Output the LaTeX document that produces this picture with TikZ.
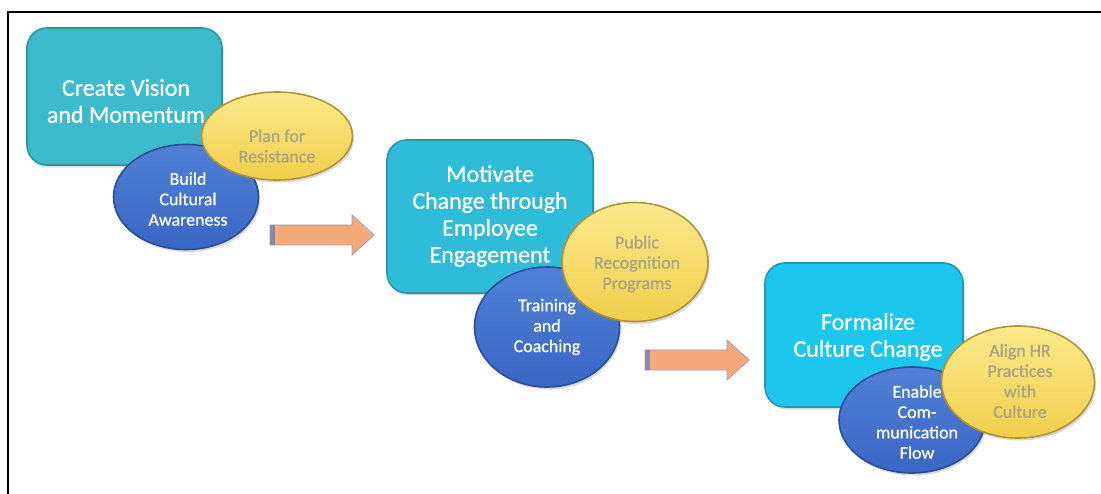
\documentclass[tikz,border=0pt]{standalone}
\usepackage{fontspec}
\setmainfont{Carlito}
\usetikzlibrary{shapes.geometric,shadows}

\definecolor{tealA}{HTML}{3DBACB}
\definecolor{tealB}{HTML}{2FBCD8}
\definecolor{tealC}{HTML}{1CC6EC}
\definecolor{tealrim}{HTML}{2596AE}
\definecolor{blueTop}{HTML}{4F80D6}
\definecolor{blueBot}{HTML}{3A66C4}
\definecolor{bluerim}{HTML}{2A4D98}
\definecolor{yelTop}{HTML}{FCE98C}
\definecolor{yelBot}{HTML}{F1CF4C}
\definecolor{yelrim}{HTML}{B09338}
\definecolor{yeltext}{HTML}{ABA284}
\definecolor{arrowfill}{HTML}{F5AA7C}
\definecolor{arrowrim}{HTML}{A29CB4}
\definecolor{tailstrip}{HTML}{8C87A9}

\tikzset{
  stage/.style={rectangle, rounded corners=20bp, draw=tealrim, line width=1.6bp,
    drop shadow={opacity=0.3, shadow xshift=1.5bp, shadow yshift=-2.5bp}},
  blob/.style={ellipse, inner sep=0pt, line width=1.6bp,
    drop shadow={opacity=0.3, shadow xshift=1.5bp, shadow yshift=-2.5bp}},
  bluebit/.style={blob, top color=blueTop, bottom color=blueBot, draw=bluerim},
  yellowbit/.style={blob, top color=yelTop, bottom color=yelBot, draw=yelrim},
  bigtext/.style={align=center, text=white,
    font=\fontsize{24}{27}\selectfont\addfontfeature{FakeBold=0.8}},
  smalltext/.style={align=center, text=white,
    font=\fontsize{18}{20.5}\selectfont\addfontfeature{FakeBold=0.8}},
  paletext/.style={smalltext, text=yeltext}
}

\begin{document}
\begin{tikzpicture}[x=1bp,y=-1bp]
  \useasboundingbox (0,0) rectangle (1101,494);

  % frame
  \draw[line width=2bp] (8,494) -- (8,12) -- (1101,12);

  % stage 1
  \node[stage, fill=tealA, minimum width=195bp, minimum height=137bp] (vision) at (124.5,96.5) {};
  \node[bluebit, minimum width=145bp, minimum height=105bp] (aware) at (186,197) {};
  \node[yellowbit, minimum width=151bp, minimum height=88bp] (resist) at (277,136) {};
  \node[bigtext] (vision text) at (126,101) {Create Vision\\and Momentum};
  \node[smalltext] (aware text) at (188,199) {Build\\Cultural\\Awareness};
  \node[paletext] (resist text) at (277,146) {Plan for\\Resistance};

  % stage 2
  \node[stage, fill=tealB, minimum width=206bp, minimum height=153bp] (motivate) at (490,216.5) {};
  \node[bluebit, minimum width=145bp, minimum height=120bp] (coach) at (547,327) {};
  \node[yellowbit, minimum width=146bp, minimum height=119bp] (recog) at (635,262) {};
  \node[bigtext] (motivate text) at (490,216) {Motivate\\Change through\\Employee\\Engagement};
  \node[smalltext] (coach text) at (547,327) {Training\\and\\Coaching};
  \node[paletext] (recog text) at (637,264) {Public\\Recognition\\Programs};

  % stage 3
  \node[stage, fill=tealC, minimum width=198bp, minimum height=144bp] (formal) at (864,335) {};
  \node[bluebit, minimum width=146bp, minimum height=106bp] (comms) at (912,420) {};
  \node[yellowbit, minimum width=153bp, minimum height=112bp] (hr) at (1018,382) {};
  \node[bigtext] (formal text) at (868,337) {Formalize\\Culture Change};
  \node[smalltext] (comms text) at (917,422) {Enable\\Com-\\munication\\Flow};
  \node[paletext] (hr text) at (1020,381) {Align HR\\Practices\\with\\Culture};

  % block arrows between the stages
  \foreach \x/\y in {270/235, 645/360}{
    \draw[fill=arrowfill, draw=arrowrim, line width=0.8bp]
      (\x,\y-10) -- (\x+82,\y-10) -- (\x+82,\y-20) -- (\x+104,\y)
      -- (\x+82,\y+20) -- (\x+82,\y+10) -- (\x,\y+10) -- cycle;
    \fill[tailstrip] (\x,\y-10) rectangle (\x+5,\y+10);
  }
\end{tikzpicture}
\end{document}
